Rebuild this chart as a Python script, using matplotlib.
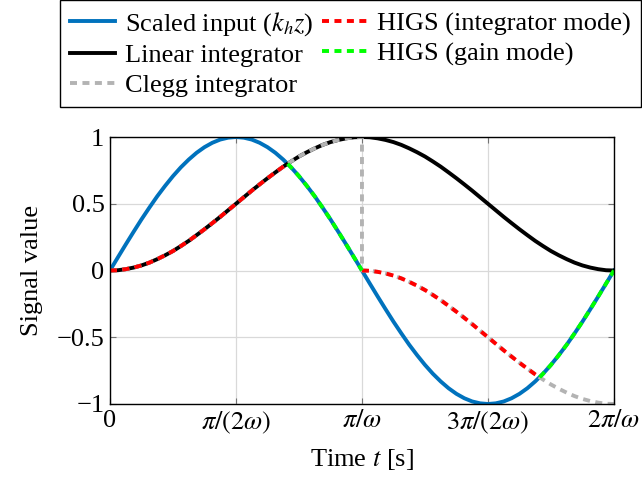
import numpy as np
import matplotlib
matplotlib.use("Agg")
import matplotlib.pyplot as plt

plt.rcParams['font.family'] = 'serif'
plt.rcParams['font.serif'] = ['Liberation Serif', 'DejaVu Serif']
plt.rcParams['mathtext.fontset'] = 'stix'

# time grid in units of pi/omega (step pi/(32 omega))
t_grid = list(np.arange(65) / 32)

# scaled input k_h z
scaled_input = [0, .098, .195, .290, .383, .471, .556, .634, .707, .773, .831, .882, .924,
                .957, .981, .995, 1.0, .995, .981, .957, .924, .882, .831, .773, .707, .634,
                .556, .471, .383, .290, .195, .098, 0,
                -.098, -.195, -.290, -.383, -.471, -.556, -.634, -.707, -.773, -.831, -.882,
                -.924, -.957, -.981, -.995, -1.0, -.995, -.981, -.957, -.924, -.882, -.831,
                -.773, -.707, -.634, -.556, -.471, -.383, -.290, -.195, -.098, 0]

# linear integrator output
linear = [0, .002, .010, .022, .038, .059, .085, .114, .146, .183, .222, .265, .309, .355,
          .402, .451, .5, .549, .598, .645, .691, .735, .778, .817, .854, .886, .915, .941,
          .962, .978, .990, .998, 1.0,
          .998, .990, .978, .962, .941, .915, .886, .854, .817, .778, .735, .691, .645,
          .598, .549, .5, .451, .402, .355, .309, .265, .222, .183, .146, .114, .085, .059,
          .038, .022, .010, .002, 0]

# clegg integrator after reset at t = pi/omega
clegg_after = [0, -.002, -.010, -.022, -.038, -.059, -.085, -.114, -.146, -.183, -.222,
               -.265, -.309, -.355, -.402, -.451, -.5, -.549, -.598, -.645, -.691, -.735,
               -.778, -.817, -.854, -.886, -.915, -.941, -.962, -.978, -.990, -.998, -1.0]

# HIGS mode switches (time, value)
switch_t = [0.705, 1.705]
switch_v = [0.8, -0.8]

labels_x = ['0', r'$\pi/(2\omega)$', r'$\pi/\omega$', r'$3\pi/(2\omega)$', r'$2\pi/\omega$']
ticks_x = [0, 0.5, 1, 1.5, 2]
ticks_y = [-1, -0.5, 0, 0.5, 1]
labels_y = ['\u22121', '\u22120.5', '0', '0.5', '1']

fs = 19

fig = plt.figure(figsize=(6.42, 4.84), dpi=100)
ax = fig.add_axes([0.1713, 0.1653, 0.785, 0.5516])

lw = 2.8
dash = (1.8, 1.4)
blue = '#0072BD'

ax.plot(t_grid, scaled_input, color=blue, lw=lw, label=r'Scaled input ($k_h z$)')
ax.plot(t_grid, linear, color='black', lw=lw, label='Linear integrator')

clegg_t = t_grid[:33] + t_grid[32:]
clegg_v = linear[:33] + clegg_after
ax.plot(clegg_t, clegg_v, color='#b3b3b3', lw=lw, dashes=dash, label='Clegg integrator')

# HIGS integrator mode
int1_t = t_grid[:23] + [switch_t[0]]
int1_v = linear[:23] + [switch_v[0]]
int2_t = t_grid[32:55] + [switch_t[1]]
int2_v = clegg_after[:23] + [switch_v[1]]
ax.plot(int1_t, int1_v, color='red', lw=lw, dashes=dash, label='HIGS (integrator mode)')
ax.plot(int2_t, int2_v, color='red', lw=lw, dashes=dash)

# HIGS gain mode
gain1_t = [switch_t[0]] + t_grid[23:33]
gain1_v = [switch_v[0]] + scaled_input[23:33]
gain2_t = [switch_t[1]] + t_grid[55:]
gain2_v = [switch_v[1]] + scaled_input[55:]
ax.plot(gain1_t, gain1_v, color='#00ff00', lw=lw, dashes=dash, label='HIGS (gain mode)')
ax.plot(gain2_t, gain2_v, color='#00ff00', lw=lw, dashes=dash)

ax.set_xlim(0, 2)
ax.set_ylim(-1, 1)
ax.set_xticks(ticks_x)
ax.set_xticklabels(labels_x)
ax.set_yticks(ticks_y)
ax.set_yticklabels(labels_y)
ax.tick_params(direction='in', top=True, right=True, length=4, color='0.45',
               labelsize=fs, pad=4)
ax.grid(True, color='0.85', lw=0.9)
ax.set_axisbelow(True)
for s in ax.spines.values():
    s.set_linewidth(1.0)

ax.set_xlabel(r'Time $t$ [s]', fontsize=fs, labelpad=8)
ax.set_ylabel('Signal value', fontsize=fs, labelpad=10)

h, l = ax.get_legend_handles_labels()
leg = fig.legend(h, l, loc='upper left', bbox_to_anchor=(60 / 642, 1.0), ncol=2,
                 fontsize=fs, handlelength=1.7, handletextpad=0.38, columnspacing=0.34,
                 labelspacing=0.23, borderpad=0.38, borderaxespad=0, fancybox=False,
                 framealpha=1, edgecolor='black')
leg.get_frame().set_linewidth(1.0)

fig.savefig('out.png', dpi=100)
